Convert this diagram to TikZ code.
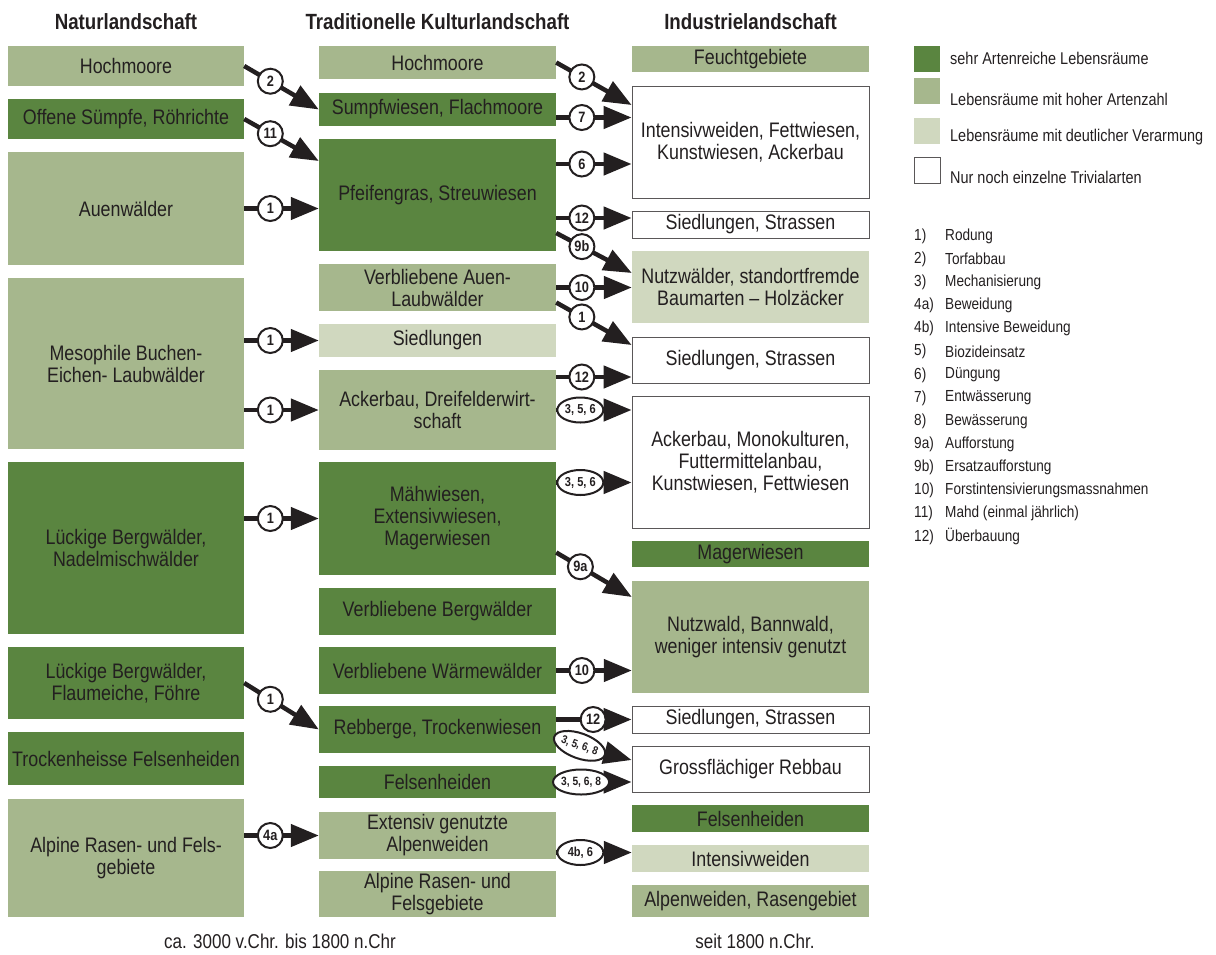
\documentclass[tikz,border=0pt]{standalone}
\usepackage{fontspec}
\setmainfont{Liberation Sans}[FakeStretch=0.85]
\usetikzlibrary{arrows.meta,shapes.geometric,positioning}
\definecolor{dkgreen}{RGB}{90,133,64}
\definecolor{mdgreen}{RGB}{166,183,141}
\definecolor{ltgreen}{RGB}{208,216,191}
\definecolor{ink}{RGB}{35,31,32}

\begin{document}
\begin{tikzpicture}[x=1pt,y=-1pt,
  box/.style={minimum width=237pt,inner sep=0pt,align=center,text=ink,
    font=\fontsize{21}{22}\selectfont},
  dk/.style={box,fill=dkgreen},
  md/.style={box,fill=mdgreen},
  lt/.style={box,fill=ltgreen},
  wt/.style={box,fill=white,draw=ink!75,line width=0.8pt},
  flow/.style={draw=ink,line width=4.5pt,-{Triangle[length=28pt,width=22pt]}},
  num/.style={circle,draw=ink,fill=white,line width=2pt,inner sep=0pt,
    minimum size=25pt,text=ink,font=\fontsize{15}{15}\selectfont\bfseries},
  ell/.style={num,ellipse,minimum width=46pt,minimum height=25pt,
    font=\fontsize{13}{13}\selectfont\bfseries},
  head/.style={text=ink,font=\fontsize{22}{24}\selectfont\bfseries},
  foot/.style={text=ink,font=\fontsize{20}{22}\selectfont},
  swatch/.style={minimum size=26pt,inner sep=0pt},
  legtxt/.style={anchor=west,text=ink,inner sep=0pt,font=\fontsize{17}{18}\selectfont}]

\newcommand\XA{126}
\newcommand\XB{437.5}
\newcommand\XC{750.5}

\useasboundingbox (0,0) rectangle (1216,954);

  %% headings
  \node[head] (hNat) at (\XA, 22) {Naturlandschaft};
  \node[head] (hTrad) at (\XB, 22) {Traditionelle Kulturlandschaft};
  \node[head] (hInd) at (\XC, 22) {Industrielandschaft};

  %% Naturlandschaft
  \node[md, minimum width=236pt, minimum height=40pt] (nHoch) at (\XA, 66) {Hochmoore};
  \node[dk, minimum width=236pt, minimum height=40pt] (nSumpf) at (\XA, 119) {Offene Sümpfe, Röhrichte};
  \node[md, minimum width=236pt, minimum height=113pt] (nAuen) at (\XA, 208.5) {Auenwälder};
  \node[md, minimum width=236pt, minimum height=171pt] (nMeso) at (\XA, 363.5) {Mesophile Buchen-\\Eichen- Laubwälder};
  \node[dk, minimum width=236pt, minimum height=172pt] (nBerg) at (\XA, 548) {Lückige Bergwälder,\\Nadelmischwälder};
  \node[dk, minimum width=236pt, minimum height=72pt] (nFlaum) at (\XA, 683) {Lückige Bergwälder,\\Flaumeiche, Föhre};
  \node[dk, minimum width=236pt, minimum height=53pt] (nFels) at (\XA, 758.5) {Trockenheisse Felsenheiden};
  \node[md, minimum width=236pt, minimum height=118pt] (nAlp) at (\XA, 858) {Alpine Rasen- und Fels-\\gebiete};

  %% Traditionelle Kulturlandschaft
  \node[md, minimum height=33pt] (tHoch) at (\XB, 62.5) {Hochmoore};
  \node[dk, minimum height=33pt] (tSumpf) at (\XB, 109.5) {Sumpfwiesen, Flachmoore};
  \node[dk, minimum height=112pt] (tPfeif) at (\XB, 195) {Pfeifengras, Streuwiesen};
  \node[md, minimum height=47pt] (tAuen) at (\XB, 287.5) {Verbliebene Auen-\\Laubwälder};
  \node[lt, minimum height=33pt] (tSied) at (\XB, 340.5) {Siedlungen};
  \node[md, minimum height=80pt] (tAcker) at (\XB, 410) {Ackerbau, Dreifelderwirt-\\schaft};
  \node[dk, minimum height=113pt] (tMaeh) at (\XB, 518.5) {Mähwiesen,\\Extensivwiesen,\\Magerwiesen};
  \node[dk, minimum height=47pt] (tBerg) at (\XB, 611.5) {Verbliebene Bergwälder};
  \node[dk, minimum height=47pt] (tWaerme) at (\XB, 670.5) {Verbliebene Wärmewälder};
  \node[dk, minimum height=47pt] (tReb) at (\XB, 729.5) {Rebberge, Trockenwiesen};
  \node[dk, minimum height=32pt] (tFels) at (\XB, 782) {Felsenheiden};
  \node[md, minimum height=47pt] (tExt) at (\XB, 835.5) {Extensiv genutzte\\Alpenweiden};
  \node[md, minimum height=46pt] (tAlp) at (\XB, 894) {Alpine Rasen- und\\Felsgebiete};

  %% Industrielandschaft
  \node[md, minimum height=26pt] (iFeucht) at (\XC, 59) {Feuchtgebiete};
  \node[wt, minimum height=112pt] (iInt) at (\XC, 142) {Intensivweiden, Fettwiesen,\\Kunstwiesen, Ackerbau};
  \node[wt, minimum height=27pt] (iSiedA) at (\XC, 224.5) {Siedlungen, Strassen};
  \node[lt, minimum height=72pt] (iNutz) at (\XC, 287) {Nutzwälder, standortfremde\\Baumarten – Holzäcker};
  \node[wt, minimum height=46pt] (iSiedB) at (\XC, 360) {Siedlungen, Strassen};
  \node[wt, minimum height=132pt] (iMono) at (\XC, 462) {Ackerbau, Monokulturen,\\Futtermittelanbau,\\Kunstwiesen, Fettwiesen};
  \node[dk, minimum height=26pt] (iMager) at (\XC, 554) {Magerwiesen};
  \node[md, minimum height=112pt] (iWald) at (\XC, 637) {Nutzwald, Bannwald,\\weniger intensiv genutzt};
  \node[wt, minimum height=27pt] (iSiedC) at (\XC, 719.5) {Siedlungen, Strassen};
  \node[wt, minimum height=46pt] (iReb) at (\XC, 769) {Grossflächiger Rebbau};
  \node[dk, minimum height=27pt] (iFels) at (\XC, 818.5) {Felsenheiden};
  \node[lt, minimum height=27pt] (iWeid) at (\XC, 858.5) {Intensivweiden};
  \node[md, minimum height=32pt] (iAlp) at (\XC, 901) {Alpenweiden, Rasengebiet};

  %% Natur -> Kultur
  \draw[flow] (nHoch.east) -- node[num,pos=.35] (a1) {2} (tSumpf.west);
  \draw[flow] (nSumpf.east) -- node[num,pos=.35] (a2) {11} ([yshift=34pt]tPfeif.west);
  \draw[flow] (nAuen.east) -- node[num,pos=.35] (a3) {1} (nAuen.east -| tPfeif.west);
  \draw[flow] (nMeso.east |- tSied.west) -- node[num,pos=.35] (a4) {1} (tSied.west);
  \draw[flow] (nMeso.east |- tAcker.west) -- node[num,pos=.35] (a5) {1} (tAcker.west);
  \draw[flow] (nBerg.east |- tMaeh.west) -- node[num,pos=.35] (a6) {1} (tMaeh.west);
  \draw[flow] (nFlaum.east) -- node[num,pos=.35] (a7) {1} (tReb.west);
  \draw[flow] (nAlp.east |- tExt.west) -- node[num,pos=.35] (a8) {4a} (tExt.west);

  %% Kultur -> Industrie
  \draw[flow] (tHoch.east) -- node[num,pos=.34] (b1) {2} ([yshift=37pt]iInt.west);
  \draw[flow] ([yshift=-8pt]tSumpf.east) -- node[num,pos=.34] (b2) {7} ([yshift=-8pt]tSumpf.east -| iInt.west);
  \draw[flow] ([yshift=31pt]tPfeif.east) -- node[num,pos=.34] (b3) {6} ([yshift=31pt]tPfeif.east -| iInt.west);
  \draw[flow] ([yshift=-23pt]tPfeif.east) -- node[num,pos=.34] (b4) {12} ([yshift=-23pt]tPfeif.east -| iSiedA.west);
  \draw[flow] ([yshift=-38pt]tPfeif.east) -- node[num,pos=.34] (b5) {9b} ([yshift=14pt]iNutz.west);
  \draw[flow] (tAuen.east) -- node[num,pos=.34] (b6) {10} (tAuen.east -| iNutz.west);
  \draw[flow] ([yshift=-15pt]tAuen.east) -- node[num,pos=.34] (b7) {1} ([yshift=15pt]iSiedB.west);
  \draw[flow] ([yshift=33pt]tAcker.east) -- node[num,pos=.34] (b8) {12} ([yshift=33pt]tAcker.east -| iSiedB.west);
  \draw[flow] (tAcker.east) -- node[ell,pos=.32] (b9) {3, 5, 6} (tAcker.east -| iMono.west);
  \draw[flow] ([yshift=36pt]tMaeh.east) -- node[ell,pos=.32] (b10) {3, 5, 6} ([yshift=36pt]tMaeh.east -| iMono.west);
  \draw[flow] ([yshift=-34pt]tMaeh.east) -- node[num,pos=.32] (b11) {9a} ([yshift=40pt]iWald.west);
  \draw[flow] (tWaerme.east) -- node[num,pos=.34] (b12) {10} (tWaerme.east -| iWald.west);
  \draw[flow] (tReb.east |- iSiedC.west) -- node[num,pos=.49] (b13) {12} (iSiedC.west);
  \draw[flow] ([yshift=-10pt]tReb.east) -- node[ell,pos=.31,rotate=-20,font=\fontsize{11.5}{12}\selectfont\bfseries] (b14) {3, 5, 6, 8} ([yshift=9pt]iReb.west);
  \draw[flow] (tFels.east) -- node[ell,pos=.33,font=\fontsize{12}{12}\selectfont\bfseries] (b15) {3, 5, 6, 8} (tFels.east -| iReb.west);
  \draw[flow] ([yshift=-17pt]tExt.east) -- node[ell,pos=.32] (b16) {4b, 6} ([yshift=-17pt]tExt.east -| iWeid.west);

  %% legend
  \node[swatch, fill=dkgreen] (sw1) at (927, 59) {};
  \node[swatch, fill=mdgreen] (sw2) at (927, 90.5) {};
  \node[swatch, fill=ltgreen] (sw3) at (927, 130.5) {};
  \node[swatch, fill=white, draw=ink!75, line width=0.8pt] (sw4) at (927, 170) {};
  \node[legtxt] (lg1) at (950, 58) {sehr Artenreiche Lebensräume};
  \node[legtxt] (lg2) at (950, 99) {Lebensräume mit hoher Artenzahl};
  \node[legtxt] (lg3) at (950, 137) {Lebensräume mit deutlicher Verarmung};
  \node[legtxt] (lg4) at (950, 177) {Nur noch einzelne Trivialarten};

  %% Massnahmen
  \foreach \n/\t [count=\i] in {1)/Rodung, 2)/Torfabbau, 3)/Mechanisierung,
      4a)/Beweidung, 4b)/Intensive Beweidung, 5)/Biozideinsatz, 6)/Düngung,
      7)/Entwässerung, 8)/Bewässerung, 9a)/Aufforstung, 9b)/Ersatzaufforstung,
      10)/Forstintensivierungsmassnahmen, 11)/Mahd (einmal jährlich),
      12)/Überbauung}
  {
    \node[legtxt, font=\fontsize{16}{17}\selectfont] (mn\i) at (914, 236+23.15*\i-23.15) {\n};
    \node[legtxt, font=\fontsize{16}{17}\selectfont] (mt\i) at (945, 236+23.15*\i-23.15) {\t};
  }

  %% time spans
  \node[foot] (fKult) at (280, 941) {ca. 3000 v.Chr. bis 1800 n.Chr};
  \node[foot] (fInd) at (755, 941) {seit 1800 n.Chr.};

\end{tikzpicture}
\end{document}
